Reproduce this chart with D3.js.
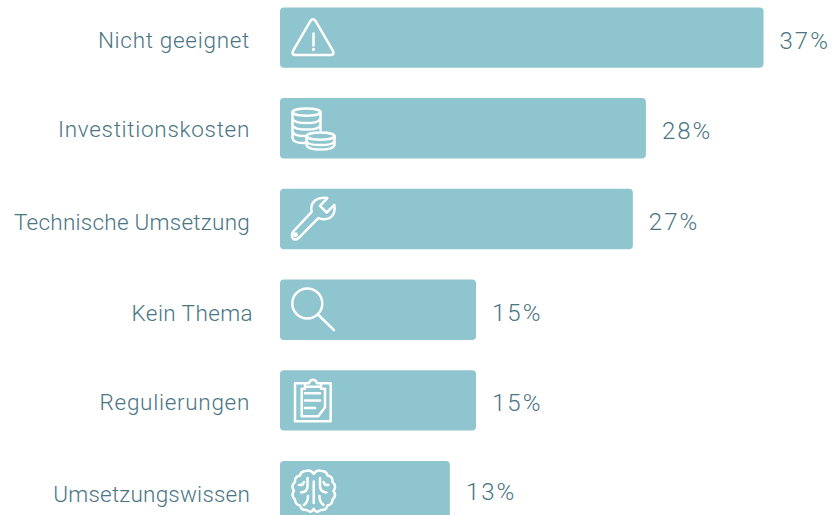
<!DOCTYPE html>
<html><head><meta charset="utf-8">
<script src="https://cdn.jsdelivr.net/npm/d3@7"></script>
<style>html,body{margin:0;padding:0;background:#fff;overflow:hidden}svg{display:block}
text{font-family:Roboto,"Open Sans",sans-serif;font-weight:300;fill:#4a7583}
.lab{font-size:22.5px;letter-spacing:.7px}.val{font-size:24px;letter-spacing:2px}</style>
</head><body><svg id="c" width="836" height="515"></svg>
<script>
const categories=["Nicht geeignet","Investitionskosten","Technische Umsetzung","Kein Thema","Regulierungen","Umsetzungswissen"];
const values=[37,28,27,15,15,13];
const iconNames=["warn","coins","wrench","search","clip","brain"];

const svg=d3.select("#c");
const x=d3.scaleLinear().domain([0,37]).range([280,763.5]);
const step=90.7, barH=60.4, top0=7.4;
const y=d3.scaleBand().domain(categories).range([top0,top0+step*(categories.length-1)+barH]).paddingInner(1-barH/step).paddingOuter(0);
// small hand-set text adjustments seen in the reference
const labDx=i=>i===3?3:0, labDy=i=>i===1?-2:i===4?-1:0, valDy=i=>i===0?1:i===5?-2:0;
const labLs=i=>i===2?.25:i===5?.2:i===3?.4:.7;

const g=svg.selectAll("g.row").data(categories).join("g").attr("class","row");
g.append("rect").attr("x",x(0)).attr("y",d=>y(d)).attr("width",(d,i)=>x(values[i])-x(0)).attr("height",y.bandwidth()).attr("rx",4).attr("fill","#8ec5ce");
g.append("text").attr("class","lab").attr("x",(d,i)=>250+labDx(i)).attr("y",(d,i)=>y(d)+41+labDy(i)).attr("text-anchor","end").style("letter-spacing",(d,i)=>labLs(i)+"px").text(d=>d);
g.append("text").attr("class","val").attr("x",(d,i)=>x(values[i])+16).attr("y",(d,i)=>y(d)+41+valDy(i)).text((d,i)=>values[i]+"%");

const icons={
 warn:s=>{s.append("path").attr("d","M30.5 13.500 Q33 10 35.500 13.500 L53 43.500 Q54.500 47.500 51 47.500 L15 47.500 Q11.500 47.500 13 43.500 Z");
   s.append("path").attr("d","M33.500 26 V38");s.append("circle").attr("cx",33.5).attr("cy",42).attr("r",1.6).attr("fill","#fff").attr("stroke","none");},
 coins:s=>{
   s.append("ellipse").attr("cx",26.5).attr("cy",14).attr("rx",14).attr("ry",3.6);
   s.append("path").attr("d","M12.500 14 V40 Q13 45 25 45 M40.500 14 V32 M12.500 20.500 Q14 25 26.500 25 Q39 25 40.500 20.500 M12.500 27 Q14 31.500 26.500 31.500 Q39 31.500 40.500 27 M12.500 33.500 Q14 38 25 38");
   s.append("ellipse").attr("cx",40.500).attr("cy",38).attr("rx",14).attr("ry",3.6);
   s.append("path").attr("d","M26.500 38 V47 Q28 51.500 40.500 51.500 Q53 51.500 54.500 47 V38 M26.500 43 Q28 47 40.500 47 Q53 47 54.500 43");},
 wrench:s=>{s.append("path").attr("d","M47.300 9.300 L40 17 L46.700 23.700 L54.300 16 Q56 25 50 29 Q44 31.500 38.300 29.300 L18.300 49.500 Q15 52 12.700 49.300 Q11 46 13.300 42.700 L31.700 23 Q30 16 35 11.700 Q40 8 47.300 9.300 Z");
   s.append("circle").attr("cx",15.5).attr("cy",46).attr("r",1.2);},
 search:s=>{s.append("circle").attr("cx",27.3).attr("cy",24).attr("r",15);s.append("path").attr("d","M39 36 L54 50.700");},
 clip:s=>{s.append("path").attr("d","M25 13 H15 V51 H50.700 V13 H41 M25 13 V16.500 H41 V13 H37 Q36 9.500 33 9.500 Q30 9.500 29 13 Z");
   s.append("path").attr("d","M25 18.500 H21.700 V46 H38.300 L45 37 V18.500 H41 M25 23 H40 M25 30.200 H40 M25 37.800 H35");},
 brain:s=>{s.append("path").attr("d","M33.700 13 Q31 8.500 26 10 Q21 10 20 14.500 Q14.500 15.500 15 21 Q10.500 25 14 30 Q10.500 35 15 38.500 Q15 43.500 20 44.500 Q21.500 50 26.500 49 Q31 53 33.700 48 Q36.500 53 41 49 Q46 50 47.500 44.500 Q52.500 43.500 52.500 38.500 Q57 35 53.500 30 Q57 25 52.500 21 Q53 15.500 47.500 14.500 Q46.500 10 41.500 10 Q36.500 8.500 33.700 13 Z");
   s.append("path").attr("d","M33.700 20.700 V42 M27.500 17 V25 Q27.500 31 21 31.500 M40 17 V25 Q40 31 46.500 31.500 M19 24 Q23 25 24 21 M48.500 24 Q44.500 25 43.500 21 M24 44 Q28 41 28 35 M43.500 44 Q39.500 41 39.500 35");}
};
g.each(function(d,i){
  const s=d3.select(this).append("g").attr("transform",`translate(${x(0)},${y(d)})`)
    .attr("fill","none").attr("stroke","#fff").attr("stroke-width",2.5).attr("stroke-linecap","round").attr("stroke-linejoin","round");
  icons[iconNames[i]](s);
});
</script></body></html>
